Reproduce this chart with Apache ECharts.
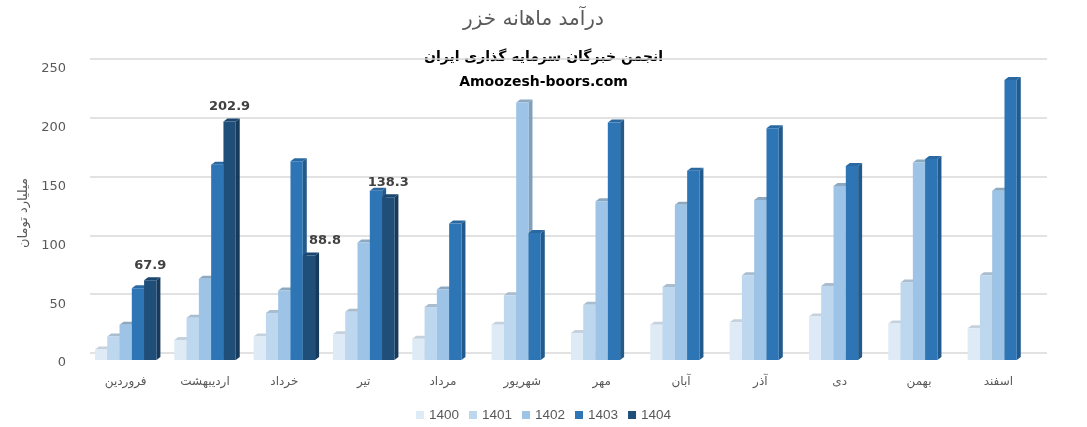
<!DOCTYPE html>
<html>
<head>
<meta charset="utf-8">
<script src="https://cdn.jsdelivr.net/npm/echarts@6/dist/echarts.min.js"></script>
<style>html,body{margin:0;padding:0;background:#fff;}#c{width:1087px;height:427px;}</style>
</head>
<body>
<div id="c"></div>
<script>
const categories = ['فروردین','اردیبهشت','خرداد','تیر','مرداد','شهریور','مهر','آبان','آذر','دی','بهمن','اسفند'];
const yearNames = ['1400','1401','1402','1403','1404'];
const v1400 = [9, 17, 20, 22, 18, 30, 23, 30, 32, 37, 31, 27];
const v1401 = [20, 36, 40, 41, 45, 55, 47, 62, 72, 63, 66, 72];
const v1402 = [30, 69, 59, 100, 60, 219, 135, 132, 136, 148, 168, 144];
const v1403 = [61, 166, 169, 144, 116, 108, 202, 161, 197, 165, 171, 238];
const v1404 = [67.9, 202.9, 88.8, 138.3, null, null, null, null, null, null, null, null];
const yTicks = [0, 50, 100, 150, 200, 250];

const seriesValues = [v1400, v1401, v1402, v1403, v1404];
const fronts = ['#DEEBF7', '#BDD7EE', '#9DC3E6', '#2E75B6', '#1F4E79'];
const sides  = ['#B8C7D6', '#9AB3C9', '#7FA0BE', '#225A8C', '#163A5B'];
const tops   = ['#C5D2DE', '#A9BDCE', '#8DA9C2', '#2A68A2', '#1B4670'];

const chart = echarts.init(document.getElementById('c'));

function makeRender(si) {
  return function (params, api) {
    const val = api.value(1);
    if (val == null || isNaN(val)) return;
    const catW = api.size([1, 0])[0];
    const bw = catW * 0.155;
    const pTop = api.coord([api.value(0), val]);
    const pBase = api.coord([api.value(0), 0]);
    const cx = pTop[0] + (si - 2) * bw;
    const x0 = cx - bw / 2, x1 = cx + bw / 2;
    const yT = pTop[1], yB = pBase[1];
    const dx = 4, dy = 3;
    const children = [
      { type: 'polygon', shape: { points: [[x1, yT], [x1 + dx, yT - dy], [x1 + dx, yB - dy], [x1, yB]] }, style: { fill: sides[si] } },
      { type: 'polygon', shape: { points: [[x0, yT], [x0 + dx, yT - dy], [x1 + dx, yT - dy], [x1, yT]] }, style: { fill: tops[si] } },
      { type: 'rect', shape: { x: x0, y: yT, width: bw, height: yB - yT }, style: { fill: fronts[si] } }
    ];
    if (si === 4) {
      // shift label right when the neighbouring 1403 bar rises well above it
      const prev = v1403[api.value(0)];
      const shift = (prev != null && prev > val + 20) ? 16 : 0;
      children.push({ type: 'text', style: { text: String(val), x: cx + shift, y: yT - 15, align: 'center', verticalAlign: 'middle', fill: '#404040', font: 'bold 13px "DejaVu Sans", sans-serif' } });
    }
    return { type: 'group', children: children };
  };
}

const series = seriesValues.map(function (arr, si) {
  return {
    name: yearNames[si],
    type: 'custom',
    xAxisIndex: 0, yAxisIndex: 0,
    renderItem: makeRender(si),
    encode: { x: 0, y: 1 },
    itemStyle: { color: fronts[si] },
    z: 10 + si,
    data: arr.map(function (v, i) { return [i, v]; })
  };
});

chart.setOption({
  animation: false,
  backgroundColor: '#fff',
  title: {
    text: 'درآمد ماهانه خزر',
    left: 458, top: 5,
    textStyle: { fontFamily: '"DejaVu Sans", sans-serif', fontSize: 20, fontWeight: 'normal', color: '#595959' }
  },
  graphic: [
    { type: 'text', left: 'center', top: 50, style: { text: 'انجمن خبرگان سرمایه گذاری ایران', font: 'bold 14px "DejaVu Sans", sans-serif', fill: '#000' } },
    { type: 'text', left: 'center', top: 75, style: { text: 'Amoozesh-boors.com', font: 'bold 14px "DejaVu Sans", sans-serif', fill: '#000' } }
  ],
  legend: {
    bottom: 0, left: 'center',
    itemWidth: 8, itemHeight: 8, itemGap: 10,
    icon: 'rect',
    textStyle: { fontFamily: '"Liberation Sans", Arial, sans-serif', fontSize: 13.5, color: '#595959' },
    data: yearNames
  },
  grid: [
    { left: 86, right: 49, top: 66, bottom: 67 },
    { left: 90, right: 40, top: 59, bottom: 74 }
  ],
  xAxis: [
    { type: 'category', gridIndex: 0, data: categories,
      axisLine: { show: false }, axisTick: { show: false },
      axisLabel: { color: '#595959', fontSize: 12, margin: 16, fontFamily: '"DejaVu Sans", sans-serif' } },
    { type: 'category', gridIndex: 1, data: categories, show: false }
  ],
  yAxis: [
    { type: 'value', gridIndex: 0, min: 0, max: 250, interval: 50,
      name: 'میلیارد تومان', nameLocation: 'middle', nameGap: 48, nameRotate: 90,
      nameTextStyle: { color: '#595959', fontSize: 13, fontFamily: '"DejaVu Sans", sans-serif' },
      axisLine: { show: false }, axisTick: { show: false }, splitLine: { show: false },
      axisLabel: { color: '#595959', fontSize: 13, margin: 20, verticalAlign: 'top', lineHeight: 6, fontFamily: '"DejaVu Sans", sans-serif',
        formatter: function (v) { return yTicks.indexOf(v) >= 0 ? String(v) : ''; } } },
    { type: 'value', gridIndex: 1, min: 0, max: 250, interval: 50,
      axisLine: { show: false }, axisTick: { show: false }, axisLabel: { show: false },
      splitLine: { show: true, lineStyle: { color: '#D9D9D9', width: 1.5 } } }
  ],
  series: series
});
</script>
</body>
</html>
